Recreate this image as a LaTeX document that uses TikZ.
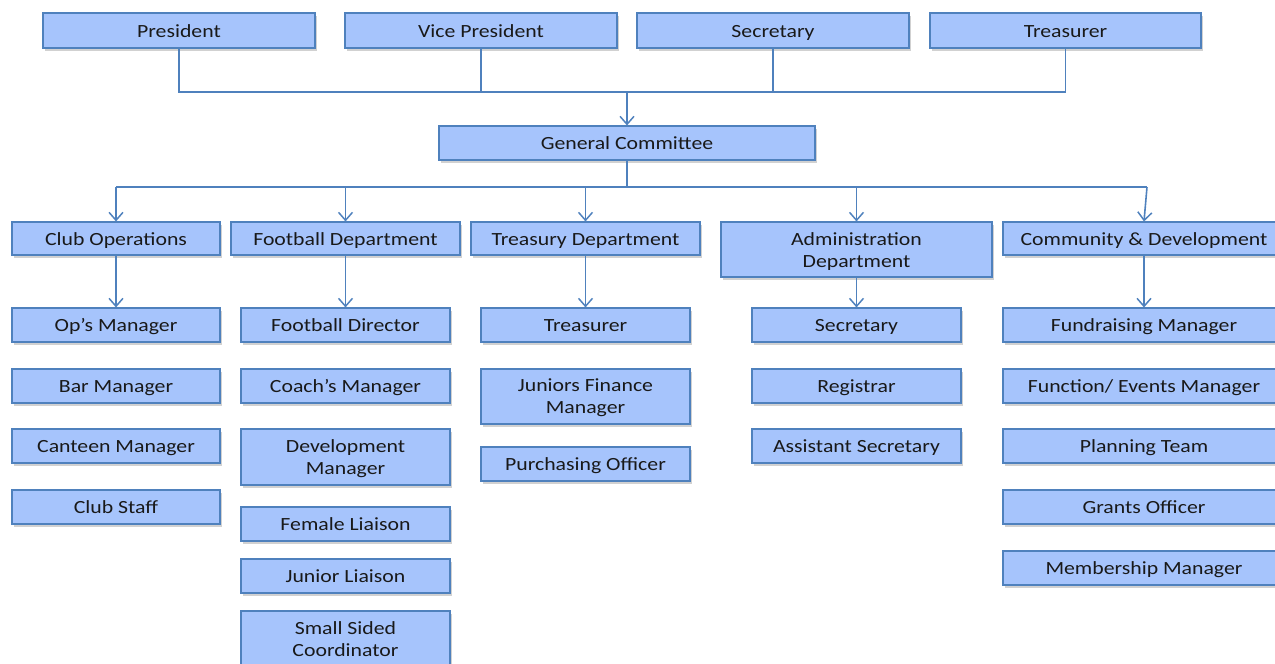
\documentclass[tikz,border=0pt]{standalone}
\usepackage{fontspec}
\setmainfont{Carlito}[FakeStretch=1.17]
\usetikzlibrary{arrows.meta,shadows}
\definecolor{boxfill}{RGB}{166,196,252}
\definecolor{boxline}{RGB}{79,129,189}
\tikzset{
  box/.style={draw=boxline, line width=1.1pt, fill=boxfill, inner sep=0pt, align=center,
    font=\fontsize{18.6}{22}\selectfont, text=black!90,
    drop shadow={shadow xshift=1.5pt, shadow yshift=-2.5pt, opacity=0.3, fill=black!60}},
  conn/.style={draw=boxline, line width=1.6pt},
  arr/.style={conn, -{Straight Barb[length=8pt,width=14pt,line width=1.5pt]}}
}
\newcommand{\hstrut}{\rule{0pt}{16pt}}
\newcommand{\dstrut}{\rule[-3pt]{0pt}{3pt}}
\newcommand{\bx}[6]{\node[box, minimum width=#4pt, minimum height=#5pt] (#1) at (#2,#3) {\hstrut #6\dstrut};}
\begin{document}
\begin{tikzpicture}[x=1pt,y=-1pt]
\useasboundingbox (0,0) rectangle (1275,664);
\clip (0,0) rectangle (1275,664);
% top row
\bx{pres}{179}{30.5}{272}{35}{President}
\bx{vp}{481}{30.5}{272}{35}{Vice President}
\bx{secr}{773}{30.5}{272}{35}{Secretary}
\bx{trs}{1065.5}{30.5}{271}{35}{Treasurer}
\bx{gc}{627}{143}{376}{34}{General Committee}
% departments
\bx{co}{116}{238.5}{208}{33}{Club Operations}
\bx{fd}{345.5}{238.5}{229}{33}{Football Department}
\bx{td}{585.5}{238.5}{229}{33}{Treasury Department}
\bx{ad}{856.5}{249.5}{271}{55}{Administration\\Department}
\bx{cd}{1144}{238.5}{282}{33}{Community \& Development}
% column 1
\bx{om}{116}{325}{208}{34}{Op’s Manager}
\bx{bm}{116}{386}{208}{34}{Bar Manager}
\bx{cm}{116}{446}{208}{34}{Canteen Manager}
\bx{cs}{116}{507}{208}{34}{Club Staff}
% column 2
\bx{fdir}{345.5}{325}{209}{34}{Football Director}
\bx{chm}{345.5}{386}{209}{34}{Coach’s Manager}
\bx{dm}{345.5}{457}{209}{56}{Development\\Manager}
\bx{fl}{345.5}{524}{209}{34}{Female Liaison}
\bx{jl}{345.5}{576}{209}{34}{Junior Liaison}
\bx{ssc}{345.5}{639}{209}{56}{Small Sided\\Coordinator}
% column 3
\bx{tre}{585.5}{325}{209}{34}{Treasurer}
\bx{jfm}{585.5}{396.5}{209}{55}{Juniors Finance\\Manager}
\bx{po}{585.5}{464}{209}{34}{Purchasing Officer}
% column 4
\bx{sec}{856.5}{325}{209}{34}{Secretary}
\bx{reg}{856.5}{386}{209}{34}{Registrar}
\bx{as}{856.5}{446}{209}{34}{Assistant Secretary}
% column 5
\bx{fm}{1144}{325}{282}{34}{Fundraising Manager}
\bx{fem}{1144}{386}{282}{34}{Function/ Events Manager}
\bx{pt}{1144}{446}{282}{34}{Planning Team}
\bx{go}{1144}{507}{282}{34}{Grants Officer}
\bx{mm}{1144}{568}{282}{34}{Membership Manager}
% connectors
\coordinate (j1) at (627,92);
\coordinate (j2) at (627,187);
\coordinate (hl) at (116,187);
\coordinate (hr) at (1147,187);
\draw[conn] (pres.south) |- (j1);
\draw[conn] (vp.south) |- (j1);
\draw[conn] (secr.south) |- (j1);
\draw[conn] (trs.south) |- (j1);
\draw[arr] (j1) -- (gc.north);
\draw[conn] (gc.south) -- (j2);
\draw[conn] (hl) -- (hr);
\draw[arr] (co.north |- j2) -- (co.north);
\draw[arr] (fd.north |- j2) -- (fd.north);
\draw[arr] (td.north |- j2) -- (td.north);
\draw[arr] (ad.north |- j2) -- (ad.north);
\draw[arr] (hr) -- (cd.north);
\draw[arr] (co.south) -- (om.north);
\draw[arr] (fd.south) -- (fdir.north);
\draw[arr] (td.south) -- (tre.north);
\draw[arr] (ad.south) -- (sec.north);
\draw[arr] (cd.south) -- (fm.north);
\end{tikzpicture}
\end{document}
